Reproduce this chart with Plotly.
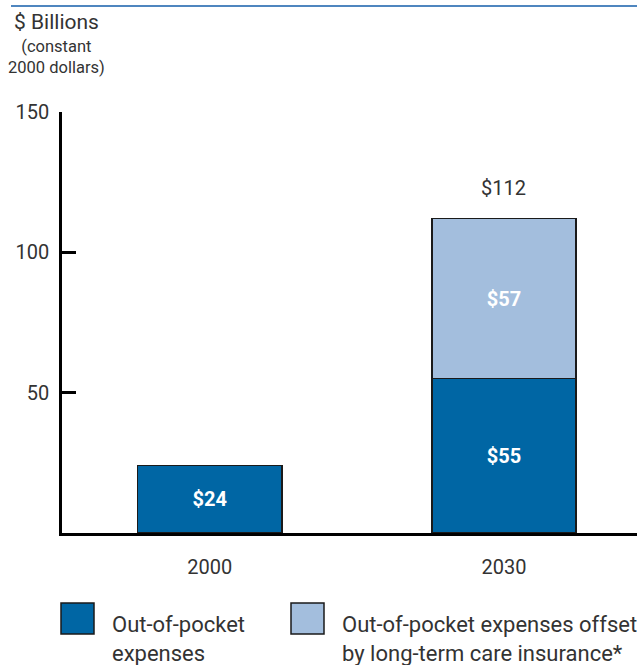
import plotly.graph_objects as go

# ---- data ----
years = ["2000", "2030"]
out_of_pocket = [24, 55]
offset_by_ltc = [None, 57]
series_names = ["Out-of-pocket<br>expenses",
                "Out-of-pocket expenses offset<br>by long-term care insurance*"]
y_tick_vals = [50, 100, 150]
y_tick_text = ["50", "100", "150"]

W, H = 637, 665
L, R, T, B = 62, 0, 112, 132
plot_w = W - L - R
plot_h = H - T - B

def px_x(px):
    return (px - L) / plot_w

def px_y(py):
    return (H - B - py) / plot_h

DARK = "#0066a4"
LIGHT = "#a3bedd"
TXT = "#333333"
FONT = "Roboto"

fig = go.Figure()
fig.add_trace(go.Bar(
    x=years, y=out_of_pocket, name=series_names[0],
    marker=dict(color=DARK, line=dict(color="#1a1a1a", width=1.5)),
    width=0.49,
    text=[f"${v}" for v in out_of_pocket],
    textposition="inside", insidetextanchor="middle", textangle=0,
    textfont=dict(family=FONT, size=20, color="white", weight="bold"),
    showlegend=False,
))
fig.add_trace(go.Bar(
    x=years, y=offset_by_ltc, name=series_names[1],
    marker=dict(color=LIGHT, line=dict(color="#1a1a1a", width=1.5)),
    width=0.49,
    text=[f"${v}" if v is not None else "" for v in offset_by_ltc],
    textposition="inside", insidetextanchor="middle", textangle=0,
    textfont=dict(family=FONT, size=20, color="white", weight="bold"),
    showlegend=False,
))

# totals above stacked bars (category index positions)
for i, (a, b) in enumerate(zip(out_of_pocket, offset_by_ltc)):
    if b is not None:
        fig.add_annotation(x=i, y=a + b, xref="x", yref="y", text=f"${a + b}",
                           showarrow=False, yanchor="middle", yshift=31,
                           font=dict(family=FONT, size=20, color=TXT))

fig.update_layout(
    width=W, height=H,
    margin=dict(l=L, r=R, t=T, b=B, pad=0),
    paper_bgcolor="white", plot_bgcolor="white",
    barmode="stack",
    font=dict(family=FONT, size=20, color=TXT),
    xaxis=dict(type="category", range=[-0.502, 1.452], showgrid=False,
               zeroline=False, showline=True, linecolor="black", linewidth=2.5,
               ticks="", tickfont=dict(family=FONT, size=20, color=TXT),
               ticklabelstandoff=14),
    yaxis=dict(range=[0, 150], showgrid=False, zeroline=False, showline=True,
               linecolor="black", linewidth=2.5, ticks="inside", ticklen=14,
               tickwidth=2.5, tickcolor="black", tickvals=y_tick_vals,
               ticktext=y_tick_text, tickfont=dict(family=FONT, size=20, color=TXT),
               ticklabelstandoff=6),
)

# top rule
fig.add_shape(type="line", xref="paper", yref="paper",
              x0=px_x(11), x1=px_x(637), y0=px_y(6), y1=px_y(6),
              line=dict(color="#4f86bf", width=2))

# axis title
fig.add_annotation(xref="paper", yref="paper", x=px_x(56), y=px_y(22),
                   text="$ Billions", showarrow=False, xanchor="center",
                   yanchor="middle", font=dict(family=FONT, size=21, color=TXT))
fig.add_annotation(xref="paper", yref="paper", x=px_x(56), y=px_y(57),
                   text="(constant<br>2000 dollars)", showarrow=False,
                   xanchor="center", yanchor="middle",
                   font=dict(family=FONT, size=16.5, color=TXT))

# legend
legend_colors = [DARK, LIGHT]
legend_sq_x = [61, 291]
legend_txt_x = [110, 340]
for name, col, sx, tx in zip(series_names, legend_colors, legend_sq_x, legend_txt_x):
    fig.add_shape(type="rect", xref="paper", yref="paper",
                  x0=px_x(sx), x1=px_x(sx + 33), y0=px_y(603), y1=px_y(634),
                  fillcolor=col, line=dict(color="#1a1a1a", width=1.5))
    fig.add_annotation(xref="paper", yref="paper", x=px_x(tx), y=px_y(639),
                       text=name, showarrow=False, xanchor="left", yanchor="middle",
                       align="left", font=dict(family=FONT, size=22, color=TXT))

fig.write_html(
    "out.html",
    config={"displayModeBar": False},
    post_script="document.body.style.margin='0';document.body.style.overflow='hidden';",
)
